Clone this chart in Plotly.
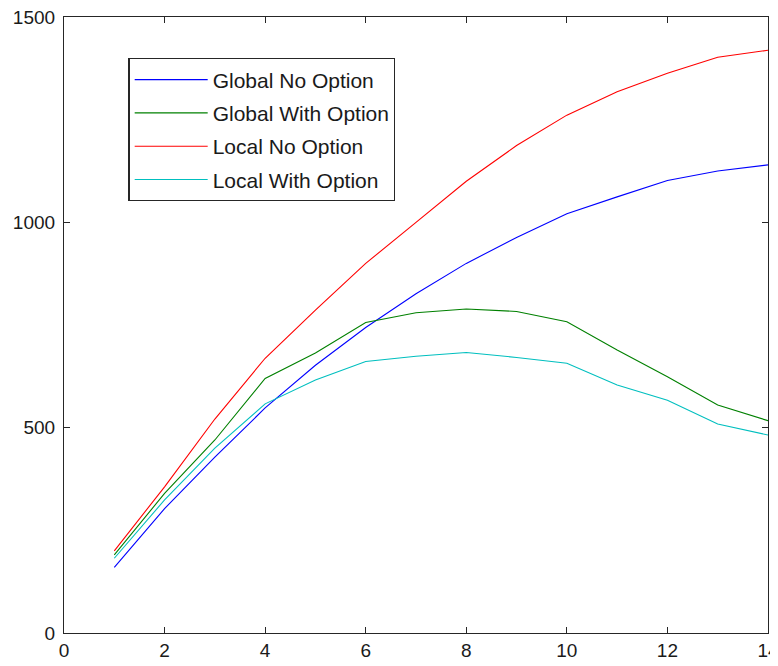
import plotly.graph_objects as go

x = list(range(1, 15))
global_no = [160, 303, 428, 548, 652, 744, 826, 900, 963, 1021, 1062, 1102, 1125, 1140]
global_with = [190, 340, 470, 620, 682, 756, 780, 789, 783, 758, 689, 624, 555, 517]
local_no = [200, 356, 521, 669, 786, 900, 1000, 1100, 1187, 1261, 1318, 1363, 1402, 1419]
local_with = [182, 324, 450, 558, 616, 661, 674, 683, 671, 657, 604, 567, 509, 482]

names = ["Global No Option", "Global With Option", "Local No Option", "Local With Option"]
colors = ["#0000ff", "#008000", "#ff0000", "#00bfbf"]
series = [global_no, global_with, local_no, local_with]

FONT = "Liberation Sans Narrow, Arial Narrow, Liberation Sans, Arial, sans-serif"

fig = go.Figure()
for i, (n, c, s) in enumerate(zip(names, colors, series)):
    fig.add_trace(go.Scatter(x=x, y=s, mode="lines", name=n, legendgroup=str(i),
                             line=dict(color=c, width=1.1)))

axis_common = dict(showline=True, linecolor="#262626", linewidth=1.2, mirror="allticks",
                   ticks="inside", ticklen=6, tickcolor="#262626", tickwidth=1.2,
                   showgrid=False, zeroline=False, automargin=False,
                   ticklabeloverflow="allow",
                   tickfont=dict(family=FONT, size=19, color="#1a1a1a"))

fig.update_layout(
    template="none",
    width=770, height=658,
    paper_bgcolor="white", plot_bgcolor="white",
    margin=dict(l=55.5, r=10, t=9, b=33),
    xaxis=dict(range=[0, 14], tickvals=list(range(0, 15, 2)), ticklabelstandoff=0, **axis_common),
    yaxis=dict(range=[0, 1500], tickvals=[0, 500, 1000, 1500], ticklabelstandoff=4, **axis_common),
    showlegend=True,
    legend=dict(x=0.0916, y=0.933, xanchor="left", yanchor="top",
                bgcolor="white", bordercolor="#262626", borderwidth=1.2,
                font=dict(family=FONT, size=21, color="#1a1a1a"),
                tracegroupgap=3, itemwidth=73),
)

fig.write_html("out.html")
